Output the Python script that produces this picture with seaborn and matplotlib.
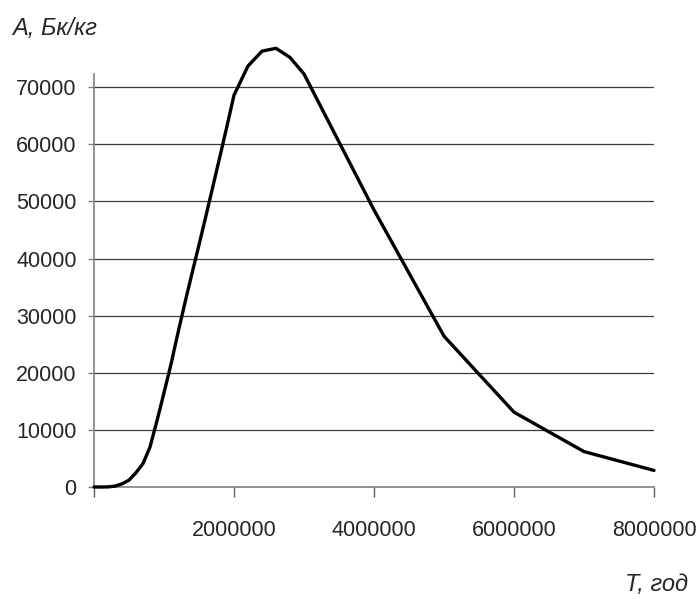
import numpy as np
import pandas as pd
import matplotlib
matplotlib.use('Agg')
import matplotlib.pyplot as plt
import seaborn as sns

# данные
t_years = [0, 100000, 200000, 300000, 400000, 500000, 600000, 700000, 800000,
           900000, 1000000, 1100000, 1200000, 1300000, 1400000, 1500000,
           1600000, 1700000, 1800000, 1900000, 2000000, 2200000, 2400000,
           2600000, 2800000, 3000000, 4000000, 5000000, 6000000, 7000000,
           8000000]
activity = [0, 0, 20, 150, 550, 1200, 2500, 4100, 7000,
            11600, 16500, 21500, 27000, 32300, 37400, 42400,
            47500, 52700, 57900, 63200, 68600, 73700, 76300,
            76800, 75200, 72300, 48500, 26400, 13100, 6200,
            2900]
x_ticks = [0, 2000000, 4000000, 6000000, 8000000]
x_ticklabels = ['', '2000000', '4000000', '6000000', '8000000']
y_ticks = [0, 10000, 20000, 30000, 40000, 50000, 60000, 70000]

df = pd.DataFrame({'T': t_years, 'A': activity})

sns.set_style('white')
plt.rcParams['font.family'] = ['Liberation Sans', 'DejaVu Sans']

fig = plt.figure(figsize=(6.97, 5.99), dpi=100)
ax = fig.add_axes([94 / 697, 1 - 487 / 599, 560 / 697, 413 / 599])

# сетка
for yv in y_ticks[1:]:
    ax.axhline(yv, color='#3a3a3a', lw=0.9, zorder=1)

sns.lineplot(data=df, x='T', y='A', color='black', lw=2.4, ax=ax,
             clip_on=False, zorder=3)

ax.set_xlim(0, 8000000)
ax.set_ylim(0, 72300)
ax.set_xticks(x_ticks)
ax.set_xticklabels(x_ticklabels)
ax.set_yticks(y_ticks)
ax.set_yticklabels([str(v) for v in y_ticks])
ax.set_xlabel('')
ax.set_ylabel('')

for s in ['top', 'right']:
    ax.spines[s].set_visible(False)
for s in ['left', 'bottom']:
    ax.spines[s].set_color('#808080')
    ax.spines[s].set_linewidth(1.2)

ax.tick_params(axis='y', which='major', direction='out', length=4.5, width=1,
               color='#808080', labelsize=15.5, pad=8, left=True)
ax.tick_params(axis='x', which='major', direction='out', length=7, width=1,
               color='#606060', labelsize=15.5, pad=17, bottom=True)

fig.text(12 / 697, 1 - 29 / 599, 'А, Бк/кг', fontsize=17, style='italic',
         ha='left', va='center')
fig.text(688 / 697, 1 - 585 / 599, 'Т, год', fontsize=17, style='italic',
         ha='right', va='center')

fig.savefig('out.png', dpi=100)
